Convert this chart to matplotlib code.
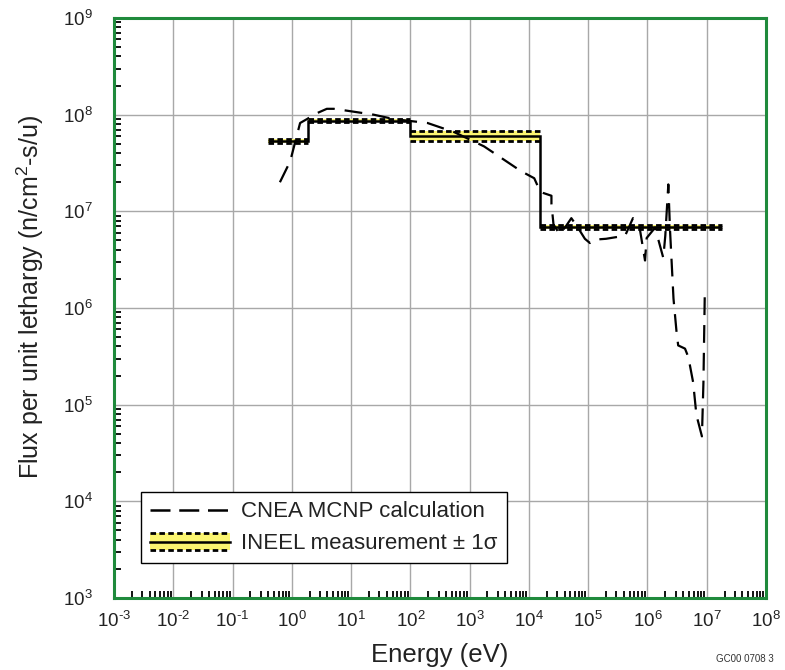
import matplotlib
matplotlib.use("Agg")
import matplotlib.pyplot as plt
import numpy as np
from matplotlib.lines import Line2D
from matplotlib.patches import Rectangle, Patch
from matplotlib.legend_handler import HandlerBase
from matplotlib.ticker import LogLocator, FixedLocator, FixedFormatter, NullFormatter

plt.rcParams["font.family"] = ["Liberation Sans", "DejaVu Sans"]
plt.rcParams["axes.unicode_minus"] = False
plt.rcParams["mathtext.fontset"] = "custom"
plt.rcParams["mathtext.rm"] = "Liberation Sans"
plt.rcParams["mathtext.it"] = "Liberation Sans:italic"

# CNEA MCNP calculated spectrum (energy in eV, flux per unit lethargy)
mcnp_energy = [0.63, 0.94, 1.38, 1.8, 2.5, 3.9, 5.1, 8.5, 24, 53, 195, 550, 1750,
               7400, 1.23e4, 1.55e4, 1.74e4, 2.4e4, 2.4e4, 2.6e4, 3.3e4, 4.2e4,
               5.2e4, 6.8e4, 8.8e4, 1.07e5, 1.3e5, 2.0e5, 4.2e5, 5.7e5, 7.4e5,
               9.1e5, 9.7e5, 1.35e6, 1.5e6, 1.85e6, 2.0e6, 2.25e6, 2.4e6, 2.75e6,
               3.1e6, 3.3e6, 4.3e6, 4.9e6, 5.9e6, 6.7e6, 8.3e6, 8.8e6, 9.3e6]
mcnp_flux = [2.0e7, 3.3e7, 8.2e7, 9.0e7, 1.02e8, 1.15e8, 1.15e8, 1.1e8, 1.0e8,
             9.0e7, 8.2e7, 6.6e7, 4.7e7, 2.6e7, 2.2e7, 1.6e7, 1.55e7, 1.45e7,
             1.2e7, 7.3e6, 5.8e6, 7.0e6, 8.5e6, 6.7e6, 5.2e6, 4.7e6, 5.1e6,
             5.2e6, 5.6e6, 8.5e6, 6.7e6, 3.1e6, 5.3e6, 6.8e6, 5.3e6, 3.3e6,
             5.6e6, 1.9e7, 6.5e6, 1.25e6, 5.6e5, 4.1e5, 3.8e5, 3.1e5, 1.7e5,
             7.8e4, 4.7e4, 1.7e5, 1.6e6]

# INEEL measured group fluxes (bin edges in eV) with relative 1-sigma
meas_edges = [0.4, 1.84, 100, 1.55e4, 1.8e7]
meas_flux = [5.3e7, 8.7e7, 6.0e7, 6.9e6]
meas_rel_sigma = [0.05, 0.04, 0.12, 0.04]

x_exponents = list(range(-3, 9))
y_exponents = list(range(3, 10))
x_tick_labels = [r"$\mathdefault{10^{%s}}$" % (r"\text{-}%d" % -e if e < 0 else "%d" % e)
                 for e in x_exponents]
y_tick_labels = [r"$\mathdefault{10^{%d}}$" % e for e in y_exponents]

YELLOW = "#fbf570"
GREEN = "#1f8a3c"
TEXT = "#222222"

fig = plt.figure(figsize=(7.85, 6.7), dpi=100)
ax = fig.add_axes([0.1452, 0.1075, 0.8306, 0.8656])
ax.set_xscale("log")
ax.set_yscale("log")
ax.set_xlim(1e-3, 1e8)
ax.set_ylim(1e3, 1e9)

# measurement band, bounds and central value
edges = np.array(meas_edges)
flux = np.array(meas_flux)
sig = np.array(meas_rel_sigma)
upper = flux * (1 + sig)
lower = flux * (1 - sig)
ax.stairs(upper, edges, baseline=lower, fill=True, color=YELLOW, zorder=2)
for lo, hi, u, l in zip(edges[:-1], edges[1:], upper, lower):
    ax.hlines([u, l], lo, hi, colors="black", linewidth=2.0,
              linestyles=[(0, (2.0, 1.2))], zorder=3)
ax.stairs(flux, edges, baseline=None, color="black", linewidth=1.8, zorder=4)

# calculation
ax.plot(mcnp_energy, mcnp_flux, color="black", linewidth=1.6,
        dashes=(8, 4.5), zorder=5)

# grid and ticks
ax.xaxis.set_major_locator(FixedLocator([10.0 ** e for e in x_exponents]))
ax.xaxis.set_major_formatter(FixedFormatter(x_tick_labels))
ax.yaxis.set_major_locator(FixedLocator([10.0 ** e for e in y_exponents]))
ax.yaxis.set_major_formatter(FixedFormatter(y_tick_labels))
ax.xaxis.set_minor_locator(LogLocator(base=10, subs=np.arange(2, 10), numticks=40))
ax.yaxis.set_minor_locator(LogLocator(base=10, subs=np.arange(2, 10), numticks=40))
ax.xaxis.set_minor_formatter(NullFormatter())
ax.yaxis.set_minor_formatter(NullFormatter())
ax.grid(True, which="major", color="#a8a8a8", linewidth=1.0, zorder=0)
ax.set_axisbelow(True)
ax.tick_params(which="major", length=0, labelsize=13.5, colors=TEXT)
ax.tick_params(axis="x", which="major", pad=9)
ax.tick_params(axis="y", which="major", pad=15.5)
ax.tick_params(which="minor", direction="in", length=5, width=1.3,
               color="black", top=False, right=False)
for s in ax.spines.values():
    s.set_color(GREEN)
    s.set_linewidth(2.2)

ax.set_xlabel("Energy (eV)", fontsize=18.5, color=TEXT, labelpad=9)
ax.set_ylabel("Flux per unit lethargy (n/cm$^{2}$-s/u)", fontsize=18,
              color=TEXT)
ax.yaxis.set_label_coords(-0.105, 0.519)


class BandHandler(HandlerBase):
    def create_artists(self, legend, orig_handle, xdescent, ydescent,
                       width, height, fontsize, trans):
        y0 = -ydescent - 0.05 * height
        h = height * 1.1
        band = Rectangle((-xdescent, y0), width, h, facecolor=YELLOW,
                         edgecolor="none", transform=trans)
        top = Line2D([-xdescent, -xdescent + width], [y0 + h, y0 + h],
                     color="black", linewidth=2.0, linestyle=(0, (2.0, 1.2)),
                     transform=trans)
        bot = Line2D([-xdescent, -xdescent + width], [y0, y0],
                     color="black", linewidth=2.0, linestyle=(0, (2.0, 1.2)),
                     transform=trans)
        mid = Line2D([-xdescent, -xdescent + width], [y0 + h / 2, y0 + h / 2],
                     color="black", linewidth=1.8, transform=trans)
        return [band, top, bot, mid]


calc_handle = Line2D([], [], color="black", linewidth=1.8, dashes=(8, 3.5))
meas_handle = Patch(facecolor=YELLOW)
leg = ax.legend([calc_handle, meas_handle],
                ["CNEA MCNP calculation", "INEEL measurement \u00b1 1\u03c3"],
                handler_map={Patch: BandHandler()},
                loc="lower left", bbox_to_anchor=(0.041, 0.0598),
                borderaxespad=0, fontsize=16, handlelength=3.6,
                handletextpad=0.53, borderpad=0.4, labelspacing=0.5,
                fancybox=False, framealpha=1, edgecolor="black")
leg.get_frame().set_linewidth(1.0)
for t in leg.get_texts():
    t.set_color(TEXT)

fig.text(0.912, 0.012, "GC00 0708 3", fontsize=7, color="#333333", ha="left")

fig.savefig("out.png", dpi=100)
